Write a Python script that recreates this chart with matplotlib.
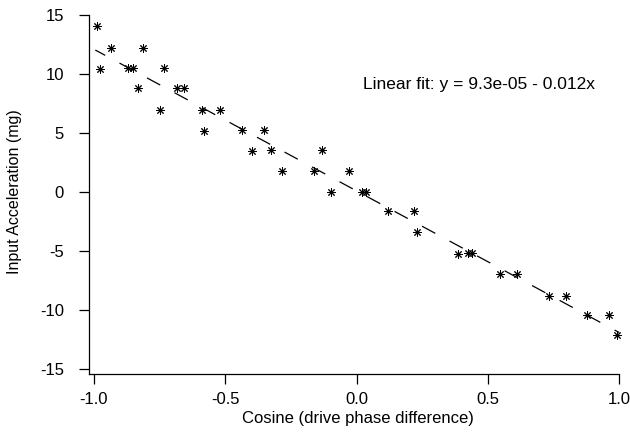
import numpy as np
import matplotlib
matplotlib.use("Agg")
from matplotlib import pyplot as plt

# cosine of drive phase difference vs input acceleration (mg)
cos_phase = [-0.989, -0.977, -0.935, -0.870, -0.850, -0.832, -0.813, -0.749, -0.733,
             -0.684, -0.657, -0.589, -0.581, -0.520, -0.436, -0.398, -0.352, -0.326,
             -0.284, -0.162, -0.131, -0.097, -0.029, 0.020, 0.035, 0.120, 0.219,
             0.230, 0.387, 0.425, 0.440, 0.547, 0.611, 0.733, 0.798, 0.878, 0.962, 0.992]
accel_mg = [14.07, 10.45, 12.2, 10.5, 10.5, 8.8, 12.2, 6.95, 10.5,
            8.8, 8.8, 6.95, 5.2, 6.95, 5.25, 3.5, 5.25, 3.56,
            1.78, 1.78, 3.56, 0.0, 1.78, 0.0, 0.0, -1.6, -1.6,
            -3.39, -5.25, -5.17, -5.17, -6.95, -6.95, -8.8, -8.8, -10.4, -10.4, -12.1]

fit_intercept = 0.093   # mg
fit_slope = -12.0       # mg
fit_label = "Linear fit: y = 9.3e-05 - 0.012x"

xticks = [-1.0, -0.5, 0.0, 0.5, 1.0]
yticks = [-15, -10, -5, 0, 5, 10, 15]

plt.rcParams['font.family'] = ['Liberation Sans', 'DejaVu Sans']
plt.rcParams['axes.unicode_minus'] = False

fig = plt.figure(figsize=(6.3, 4.32), dpi=100)
ax = fig.add_axes([89/630, (432-373.7)/432, 538/630, 363.4/432])

ax.plot(cos_phase, accel_mg, linestyle='none', marker=(8, 2, 0), markersize=6,
        markeredgewidth=0.7, color='black')

xfit = np.array([-0.995, 1.0])
ax.plot(xfit, fit_intercept + fit_slope*xfit, color='black', lw=0.9,
        linestyle=(3, (12, 13)))

ax.text(0.026, 9.1, fit_label, fontsize=12.5, ha='left', va='center')

ax.set_xlim(-1.019, 1.03)
ax.set_ylim(-15.4, 15.4)
ax.set_xticks(xticks)
ax.set_xticklabels(["%.1f" % t for t in xticks])
ax.set_yticks(yticks)
ax.tick_params(direction='out', length=7, width=0.9, labelsize=12)
ax.tick_params(axis='x', pad=6)
ax.tick_params(axis='y', pad=11)

for s in ['top', 'right']:
    ax.spines[s].set_visible(False)
ax.spines['left'].set_bounds(-15.4, 15)
ax.spines['bottom'].set_bounds(-1.019, 1.0)
ax.spines['left'].set_linewidth(0.9)
ax.spines['bottom'].set_linewidth(0.9)

ax.set_xlabel("Cosine (drive phase difference)", fontsize=12, labelpad=3)
ax.set_ylabel("Input Acceleration (mg)", fontsize=11.5)
ax.yaxis.set_label_coords(-0.124, 0.5)

fig.savefig("out.png", dpi=100)
